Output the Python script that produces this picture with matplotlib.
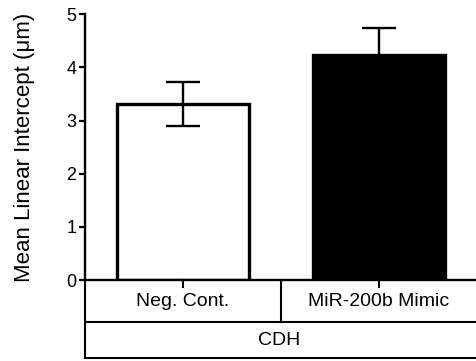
import matplotlib
matplotlib.use('Agg')
import matplotlib.pyplot as plt

# data
groups = ['Neg. Cont.', 'MiR-200b Mimic']
means = [3.31, 4.24]
sems = [0.41, 0.50]
bar_colors = ['white', 'black']
super_group = 'CDH'

plt.rcParams['font.family'] = ['Liberation Sans', 'DejaVu Sans']

fig = plt.figure(figsize=(4.77, 3.61), dpi=100)
ax = fig.add_axes([0.178, 0.224, 0.822, 0.737])

x = range(len(groups))
ax.bar(x, means, width=0.67, color=bar_colors, edgecolor='black', linewidth=2.4, zorder=2)
ax.errorbar(x, means, yerr=sems, fmt='none', ecolor='black', elinewidth=1.7,
            capsize=12, capthick=1.7, zorder=3)

ax.set_xlim(-0.5, 1.5)
ax.set_ylim(0, 5)
ax.set_yticks([0, 1, 2, 3, 4, 5])
ax.tick_params(axis='y', labelsize=13, width=1.6, length=4.5, pad=1.5)
ax.set_xticks([])
ax.set_ylabel('Mean Linear Intercept (μm)', fontsize=16)
ax.yaxis.set_label_coords(-0.128, 0.5)

for s in ['top', 'right']:
    ax.spines[s].set_visible(False)
ax.spines['left'].set_linewidth(1.7)
ax.spines['bottom'].set_linewidth(1.7)

# category table below the axis
r1 = -0.79
r2 = -1.47
lk = dict(color='black', lw=1.5, clip_on=False)
ax.plot([-0.5, -0.5], [0, r2], **lk)
ax.plot([-0.5, 1.5], [r1, r1], **lk)
ax.plot([-0.5, 1.5], [r2, r2], **lk)
ax.plot([0.5, 0.5], [0, r1], **lk)
for xi in x:
    ax.plot([xi, xi], [0, -0.13], **lk)
    ax.text(xi, r1 / 2, groups[xi], ha='center', va='center', fontsize=14, clip_on=False)
ax.text(0.49, (r1 + r2) / 2, super_group, ha='center', va='center', fontsize=14, clip_on=False)

fig.savefig('out.png', dpi=100)
